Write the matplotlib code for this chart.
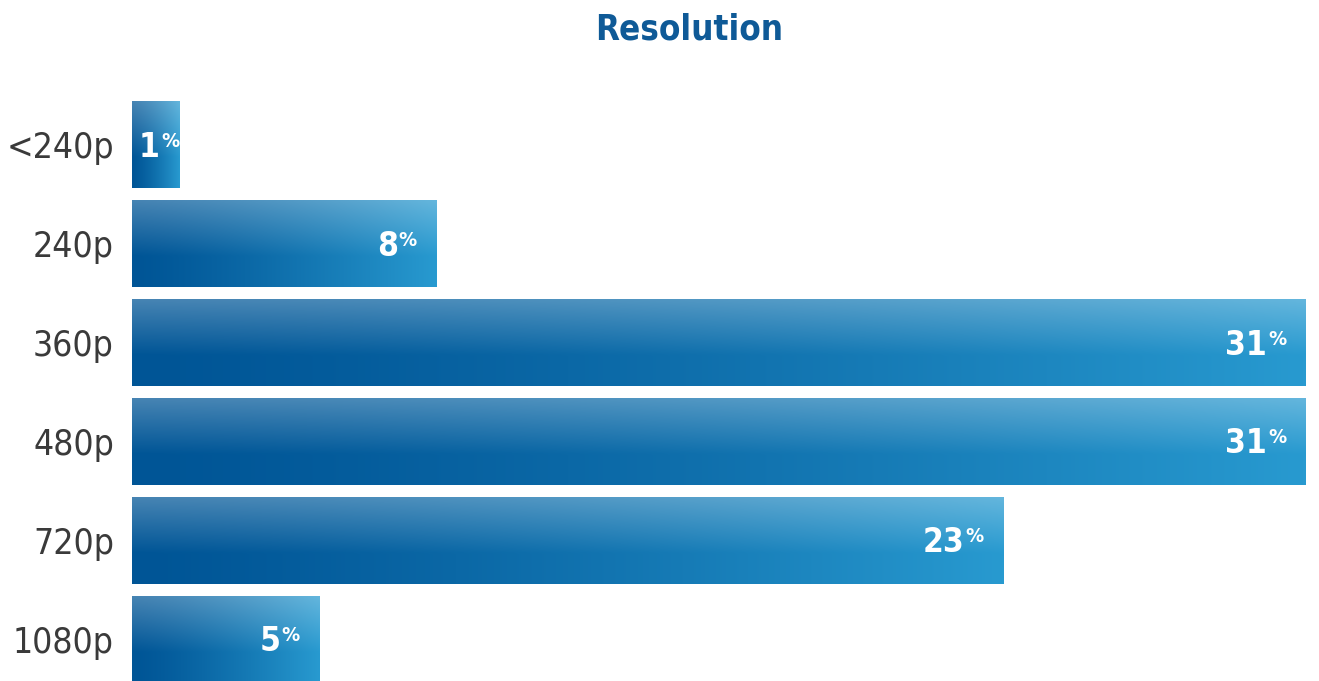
import numpy as np
import matplotlib.pyplot as plt

categories = ["<240p", "240p", "360p", "480p", "720p", "1080p"]
shares = [1.25, 8.05, 31, 31, 23, 4.95]   # bar lengths (%)
labels = ["1", "8", "31", "31", "23", "5"]

cond = dict(family="DejaVu Sans", fontstretch="condensed")

fig = plt.figure(figsize=(13.19, 6.81), dpi=100)
ax = fig.add_axes([132 / 1319, 0, (1306 - 132) / 1319, 580 / 681])

y = np.arange(len(categories))
bars = ax.barh(y, shares, height=0.88, color="none", edgecolor="none")

# gradient: dark blue on the left to lighter blue on the right, light sheen at the top
c0 = np.array([0, 85, 150]) / 255
c1 = np.array([40, 154, 208]) / 255
nx, ny = 200, 60
tx = np.linspace(0, 1, nx)
ty = np.linspace(0, 1, ny)  # 0 = top
base = c0[None, None, :] + (c1 - c0)[None, None, :] * tx[None, :, None] ** 1.3
sheen = 0.28 * np.clip(1 - ty / 0.65, 0, 1)[:, None, None]
grad = base * (1 - sheen) + sheen
grad = np.broadcast_to(grad, (ny, nx, 3))

for i, b in enumerate(bars):
    x0, y0 = b.get_x(), b.get_y()
    w, h = b.get_width(), b.get_height()
    im = ax.imshow(grad, extent=[x0, x0 + w, y0 + h, y0], aspect="auto",
                   interpolation="bilinear", zorder=2)
    im.set_clip_path(b)

    if w * 1174 / 31 < 80:
        num = ax.annotate(labels[i], xy=(0, y[i]), xytext=(7, -12),
                          textcoords="offset pixels", ha="left", va="baseline",
                          color="white", fontsize=24, fontweight="bold",
                          zorder=3, **cond)
    else:
        num = ax.annotate(labels[i], xy=(w, y[i]), xytext=(-39, -12),
                          textcoords="offset pixels", ha="right", va="baseline",
                          color="white", fontsize=24, fontweight="bold",
                          zorder=3, **cond)
    ax.annotate("%", xy=(1, 1), xycoords=num, xytext=(1, -1),
                textcoords="offset pixels", ha="left", va="top",
                color="white", fontsize=14.5, fontweight="bold",
                zorder=3, **cond)

ax.set_xlim(0, 31)
ax.set_ylim(5.42, -0.44)
ax.set_yticks(y)
ax.set_yticklabels(categories, fontsize=25.5, color="#3a3a3a", **cond)
ax.tick_params(axis="y", length=0, pad=13)
ax.set_xticks([])
for s in ax.spines.values():
    s.set_visible(False)

fig.text(689 / 1319, 1 - 30 / 681, "Resolution", ha="center", va="center",
         fontsize=25, fontweight="bold", color="#0f5a97", **cond)

fig.savefig("out.png", dpi=100)
